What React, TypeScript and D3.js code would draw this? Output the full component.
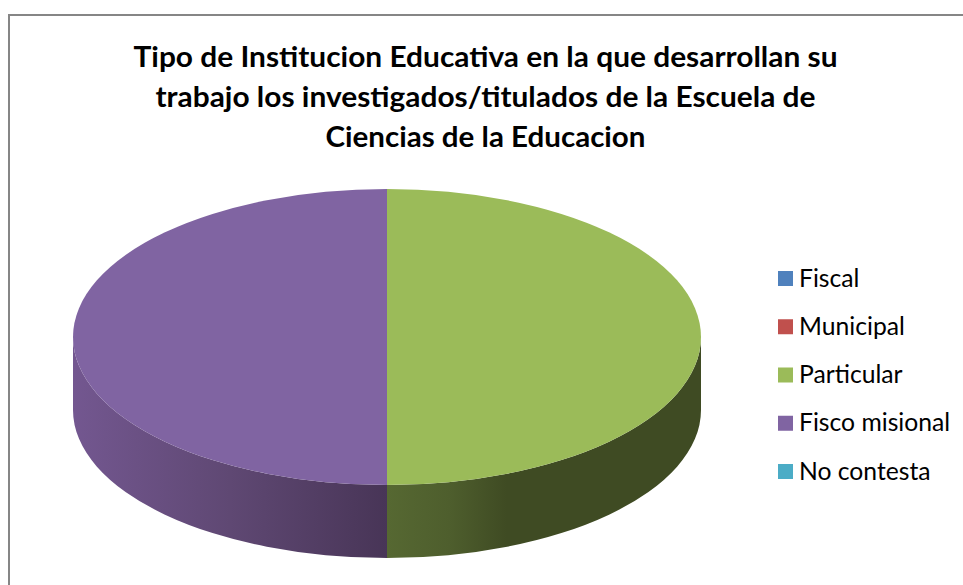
import React from "react";
import * as d3 from "d3";

const categories = ["Fiscal", "Municipal", "Particular", "Fisco misional", "No contesta"];
const values = [0, 0, 50, 50, 0];
const colors = ["#4f81bd", "#c0504d", "#9bbb59", "#8064a2", "#4bacc6"];
// Side wall shading, read left to right across the whole pie width
const sideStops: [number, string][][] = [
  [[0, "#3f5f85"], [1, "#2a4060"]],
  [[0, "#8a3a38"], [1, "#5c2625"]],
  [[0.5, "#566832"], [0.6, "#4e5e2d"], [0.69, "#3f4b23"], [1, "#3f4b23"]],
  [[0, "#735790"], [0.25, "#5f4873"], [0.5, "#483557"]],
  [[0, "#357a8c"], [1, "#24525e"]],
];
const titleLines = [
  "Tipo de Institucion Educativa en la que desarrollan su",
  "trabajo los investigados/titulados de la Escuela de",
  "Ciencias de la Educacion",
];
const titleWidths = [704, 660, 320];

const W = 963, H = 585;
const cx = 387, cy = 337, rx = 314, ry = 148, depth = 73;
const FONT = "Lato, Carlito, sans-serif";

export default function App() {
  const pie = d3.pie<number>().sort(null).startAngle(0).endAngle(2 * Math.PI);
  const arcs = pie(values);
  const arc = d3.arc<d3.PieArcDatum<number>>().innerRadius(0).outerRadius(rx);
  const sy = ry / rx;
  const legendY = d3.scalePoint<string>().domain(categories).range([278.5, 471.5]);

  const rimX = (a: number) => cx + rx * Math.sin(a);
  const rimY = (a: number) => cy - ry * Math.cos(a);

  const sidePath = (a0: number, a1: number) => {
    const lo = Math.max(a0, Math.PI / 2);
    const hi = Math.min(a1, (3 * Math.PI) / 2);
    if (hi <= lo) return null;
    return (
      `M${rimX(lo)},${rimY(lo)}` +
      `A${rx},${ry} 0 0 1 ${rimX(hi)},${rimY(hi)}` +
      `L${rimX(hi)},${rimY(hi) + depth}` +
      `A${rx},${ry} 0 0 0 ${rimX(lo)},${rimY(lo) + depth}Z`
    );
  };

  return (
    <svg
      width={W}
      height={H}
      viewBox={`0 0 ${W} ${H}`}
      style={{ position: "absolute", left: 0, top: 0, display: "block", background: "#fff" }}
    >
      <defs>
        {sideStops.map((stops, i) => (
          <linearGradient
            key={i}
            id={`side${i}`}
            gradientUnits="userSpaceOnUse"
            x1={cx - rx}
            x2={cx + rx}
            y1={0}
            y2={0}
          >
            {stops.map(([o, c], j) => (
              <stop key={j} offset={o} stopColor={c} />
            ))}
          </linearGradient>
        ))}
      </defs>
      <rect x={9} y={15} width={W + 10} height={H + 10} fill="#fff" stroke="#868686" strokeWidth={2} />
      <g>
        {arcs.map((d, i) => {
          const p = sidePath(d.startAngle, d.endAngle);
          return p ? <path key={i} d={p} fill={`url(#side${i})`} /> : null;
        })}
      </g>
      <g transform={`translate(${cx},${cy}) scale(1,${sy})`}>
        {arcs.map((d, i) =>
          d.endAngle > d.startAngle ? <path key={i} d={arc(d) as string} fill={colors[i]} /> : null
        )}
      </g>
      <g fontFamily={FONT} fontWeight={700} fontSize={28.5} fill="#000" textAnchor="middle">
        {titleLines.map((t, i) => (
          <text
            key={i}
            x={485.5}
            y={66.5 + i * 40}
            textLength={titleWidths[i]}
            lengthAdjust="spacingAndGlyphs"
          >
            {t}
          </text>
        ))}
      </g>
      <g fontFamily={FONT} fontSize={24.7} fill="#000">
        {categories.map((c, i) => (
          <g key={c} transform={`translate(0,${legendY(c)})`}>
            <rect x={778} y={-7.5} width={15} height={15} fill={colors[i]} />
            <text x={799} y={8}>{c}</text>
          </g>
        ))}
      </g>
    </svg>
  );
}
